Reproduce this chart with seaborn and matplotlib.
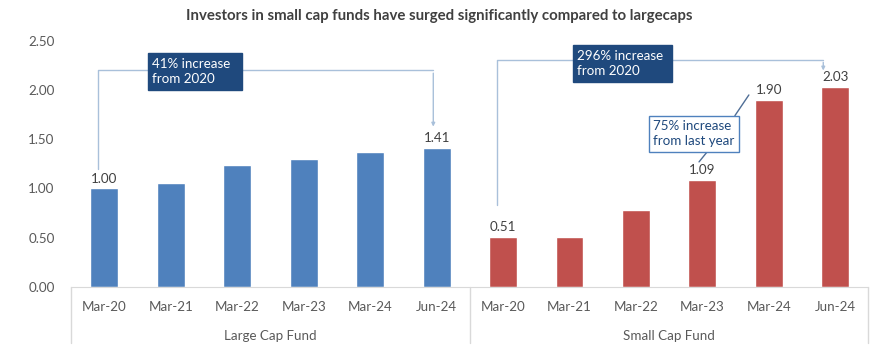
import matplotlib
matplotlib.use("Agg")
import matplotlib.pyplot as plt
import matplotlib.transforms as mtransforms
import seaborn as sns
import pandas as pd

# data
periods = ["Mar-20", "Mar-21", "Mar-22", "Mar-23", "Mar-24", "Jun-24"]
large_cap = [1.00, 1.06, 1.24, 1.30, 1.37, 1.41]
small_cap = [0.51, 0.51, 0.78, 1.09, 1.90, 2.03]
funds = ["Large Cap Fund", "Small Cap Fund"]
labelled = {"Large Cap Fund": ["Mar-20", "Jun-24"],
            "Small Cap Fund": ["Mar-20", "Mar-23", "Mar-24", "Jun-24"]}

df = pd.DataFrame({
    "fund": [funds[0]] * len(periods) + [funds[1]] * len(periods),
    "period": periods + periods,
    "value": large_cap + small_cap,
})
df["key"] = df["fund"] + "|" + df["period"]

sns.set_style("white")
plt.rcParams["font.family"] = ["Lato", "DejaVu Sans"]
txt = "#595959"
fs = 9.6

fig = plt.figure(figsize=(8.79, 3.52), dpi=100)
ax = fig.add_axes([0.081, 0.185, 0.907, 0.699])

sns.barplot(data=df, x="key", y="value", hue="fund", order=list(df["key"]),
            palette={funds[0]: "#4F81BD", funds[1]: "#C0504D"}, saturation=1,
            dodge=False, width=0.42, legend=False, ax=ax)

ax.set_ylim(0, 2.5)
ax.set_xlim(-0.5, len(df) - 0.5)
ax.set_yticks([0, 0.5, 1.0, 1.5, 2.0, 2.5])
ax.set_yticklabels([f"{v:.2f}" for v in ax.get_yticks()], color=txt, fontsize=fs)
ax.set_xticks(range(len(df)))
ax.set_xticklabels(df["period"], color=txt, fontsize=fs)
ax.tick_params(axis="both", length=0, pad=10)
ax.tick_params(axis="y", pad=12)
ax.set_xlabel("")
ax.set_ylabel("")
for s in ["top", "right", "left"]:
    ax.spines[s].set_visible(False)
ax.spines["bottom"].set_color("#D9D9D9")

# value labels
for i, row in df.iterrows():
    if row["period"] in labelled[row["fund"]]:
        ax.text(i, row["value"] + 0.04, f"{row['value']:.2f}", ha="center",
                va="bottom", fontsize=fs, color="#404040")

# group labels and separators
trans = mtransforms.blended_transform_factory(ax.transData, ax.transAxes)
n = len(periods)
for b in [-0.5, n - 0.5, 2 * n - 0.5]:
    ax.plot([b, b], [0, -0.23], transform=trans, color="#D9D9D9", lw=1, clip_on=False)
for g, f in enumerate(funds):
    ax.text(g * n + (n - 1) / 2, -0.2, f, transform=trans, ha="center",
            va="center", fontsize=fs, color=txt)

# brackets
line_c = "#A9C0DA"
ax.plot([-0.1, -0.1, 4.95], [1.2, 2.2, 2.2], color=line_c, lw=1)
ax.annotate("", xy=(4.95, 1.6), xytext=(4.95, 2.2),
            arrowprops=dict(arrowstyle="-|>", color=line_c, lw=1, mutation_scale=5))
ax.plot([5.91, 5.91, 10.82], [0.83, 2.31, 2.31], color=line_c, lw=1)
ax.annotate("", xy=(10.82, 2.17), xytext=(10.82, 2.31),
            arrowprops=dict(arrowstyle="-|>", color=line_c, lw=1, mutation_scale=5))

box = dict(boxstyle="square,pad=0.35", fc="#1F497D", ec="#1F497D")
ax.text(0.72, 2.19, "41% increase  \nfrom 2020", color="white", fontsize=fs,
        va="center", ha="left", bbox=box, linespacing=1.3)
ax.text(7.12, 2.27, "296% increase \nfrom 2020", color="white", fontsize=fs,
        va="center", ha="left", bbox=box, linespacing=1.3)

ax.plot([9.49, 9.70], [1.74, 1.95], color="#4F6E96", lw=1)
ax.plot([9.07, 8.95], [1.37, 1.27], color="#4F6E96", lw=1)
ax.text(8.26, 1.555, "75% increase\nfrom last year", color="#1F497D", fontsize=fs,
        va="center", ha="left", linespacing=1.3,
        bbox=dict(boxstyle="square,pad=0.35", fc="white", ec="#4F81BD", lw=1))

fig.suptitle("Investors in small cap funds have surged significantly compared to largecaps",
             x=0.5, y=0.975, fontsize=10.8, fontweight="bold", color="#404040")

fig.savefig("out.png", dpi=100)
